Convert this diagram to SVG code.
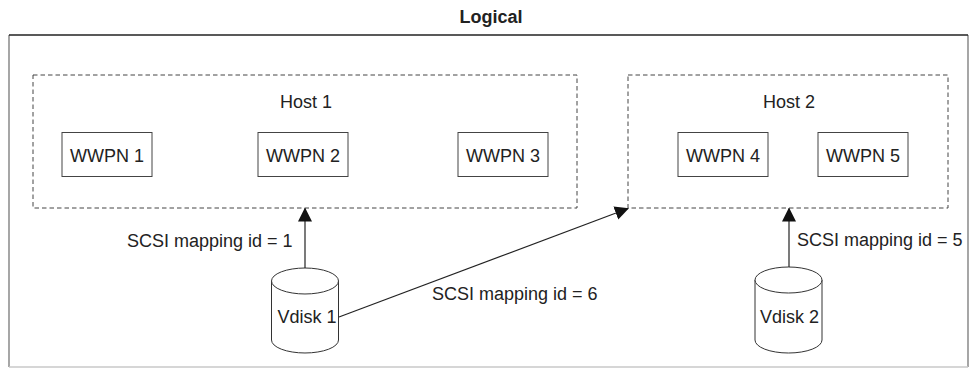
<svg xmlns="http://www.w3.org/2000/svg" width="973" height="369" viewBox="0 0 973 369">
<style>
text{font-family:"Liberation Sans",Arial,sans-serif;font-size:18px;fill:#222}
.title{font-weight:bold}
.host{fill:none;stroke:#444;stroke-width:1;stroke-dasharray:4.5 3}
.box{fill:#fff;stroke:#444;stroke-width:1}
.cyl{fill:#fff;stroke:#333;stroke-width:1}
.conn{stroke:#222;stroke-width:1.2;fill:none}
</style>
<defs>
<marker id="arr" markerUnits="userSpaceOnUse" markerWidth="14" markerHeight="14" viewBox="0 0 14 14" refX="13" refY="7" orient="auto">
<path d="M0,0 L14,7 L0,14 Z" fill="#111"/>
</marker>
</defs>
<rect width="973" height="369" fill="#fff"/>
<g id="frame">
<line x1="9" y1="35" x2="9" y2="367" stroke="#777" stroke-width="1.3"/>
<line x1="968" y1="35" x2="968" y2="367" stroke="#777" stroke-width="1.3"/>
<line x1="9" y1="367" x2="968" y2="367" stroke="#c8c8c8" stroke-width="1.3"/>
<line x1="9" y1="35" x2="968" y2="35" stroke="#222" stroke-width="1.5"/>
<text class="title" x="491" y="23" text-anchor="middle">Logical</text>
</g>
<g id="host1">
<rect class="host" x="33" y="75" width="544" height="133"/>
<text x="306" y="108" text-anchor="middle">Host 1</text>
</g>
<g id="host2">
<rect class="host" x="628" y="75" width="320" height="133"/>
<text x="789" y="108" text-anchor="middle">Host 2</text>
</g>
<g id="wwpn1"><rect class="box" x="62" y="132.5" width="90" height="44"/><text x="107" y="162" text-anchor="middle">WWPN 1</text></g>
<g id="wwpn2"><rect class="box" x="258" y="132.5" width="90" height="44"/><text x="303" y="162" text-anchor="middle">WWPN 2</text></g>
<g id="wwpn3"><rect class="box" x="458" y="132.5" width="90" height="44"/><text x="503" y="162" text-anchor="middle">WWPN 3</text></g>
<g id="wwpn4"><rect class="box" x="678" y="132.5" width="90" height="44"/><text x="723" y="162" text-anchor="middle">WWPN 4</text></g>
<g id="wwpn5"><rect class="box" x="818" y="132.5" width="90" height="44"/><text x="863" y="162" text-anchor="middle">WWPN 5</text></g>
<g id="vdisk1">
<path class="cyl" d="M271.5,281 A33.5,13 0 0 1 338.5,281 L338.5,340 A33.5,13 0 0 1 271.5,340 Z"/>
<path class="cyl" d="M271.5,281 A33.5,13 0 0 0 338.5,281"/>
<text x="307" y="322.5" text-anchor="middle">Vdisk 1</text>
</g>
<g id="vdisk2">
<path class="cyl" d="M755,280 A33.5,13 0 0 1 822,280 L822,340 A33.5,13 0 0 1 755,340 Z"/>
<path class="cyl" d="M755,280 A33.5,13 0 0 0 822,280"/>
<text x="789.5" y="322.5" text-anchor="middle">Vdisk 2</text>
</g>
<g id="connectors">
<line class="conn" x1="305" y1="268" x2="305" y2="208.5" marker-end="url(#arr)"/>
<line class="conn" x1="339" y1="317" x2="628" y2="208.5" marker-end="url(#arr)"/>
<line class="conn" x1="789" y1="267" x2="789" y2="208.5" marker-end="url(#arr)"/>
<text x="127" y="247">SCSI mapping id = 1</text>
<text x="432" y="300">SCSI mapping id = 6</text>
<text x="797" y="246">SCSI mapping id = 5</text>
</g>
</svg>
